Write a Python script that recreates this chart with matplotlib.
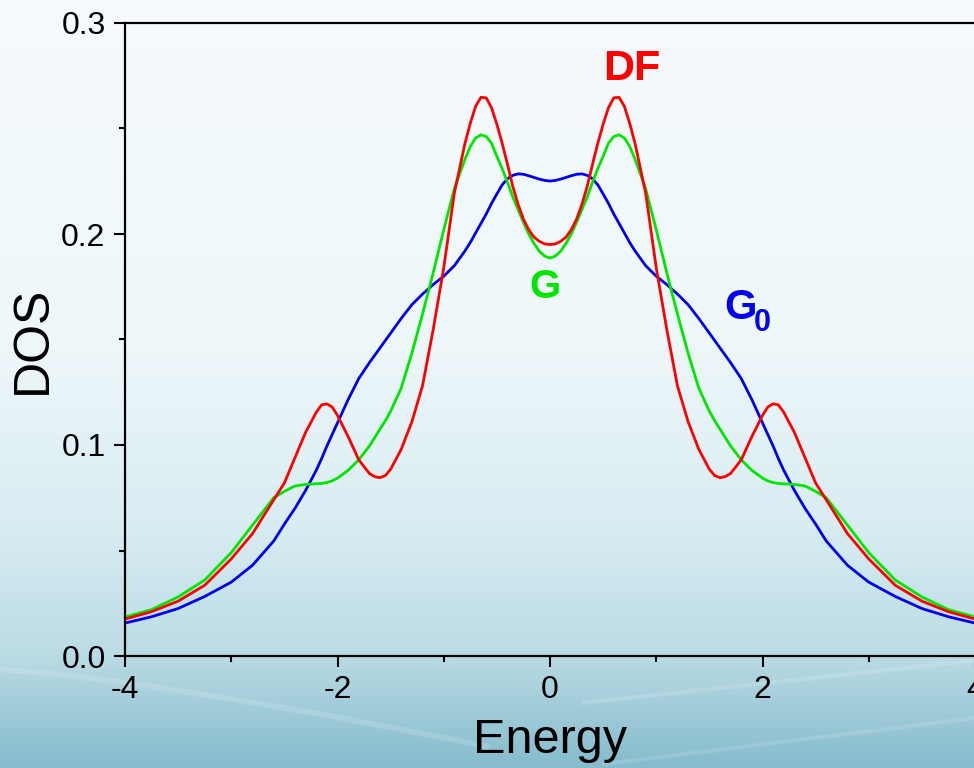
import numpy as np
import matplotlib
matplotlib.use("Agg")
import matplotlib.pyplot as plt
from matplotlib.colors import LinearSegmentedColormap
from matplotlib.ticker import MultipleLocator

plt.rcParams['font.family'] = ['Liberation Sans', 'DejaVu Sans']

# énergies
energy = [-4.0, -3.75, -3.5, -3.25, -3.0, -2.8, -2.6, -2.5, -2.4, -2.3, -2.2, -2.15,
          -2.1, -2.05, -2.0, -1.9, -1.8, -1.7, -1.65, -1.6, -1.55, -1.5, -1.4, -1.3,
          -1.2, -1.1, -1.0, -0.9, -0.8, -0.75, -0.7, -0.65, -0.6, -0.55, -0.5, -0.45,
          -0.4, -0.35, -0.3, -0.25, -0.2, -0.15, -0.1, -0.05, 0.0,
          0.05, 0.1, 0.15, 0.2, 0.25, 0.3, 0.35, 0.4, 0.45, 0.5, 0.55, 0.6, 0.65,
          0.7, 0.75, 0.8, 0.9, 1.0, 1.1, 1.2, 1.3, 1.4, 1.5, 1.55, 1.6, 1.65, 1.7,
          1.8, 1.9, 2.0, 2.05, 2.1, 2.15, 2.2, 2.3, 2.4, 2.5, 2.6, 2.8, 3.0, 3.25,
          3.5, 3.75, 4.0]

# DF (rouge)
dos_df = [0.0175, 0.021, 0.026, 0.0335, 0.046, 0.058, 0.074, 0.082, 0.094, 0.106,
          0.1155, 0.119, 0.1195, 0.118, 0.114, 0.104, 0.093, 0.0865, 0.085, 0.0845,
          0.0855, 0.0885, 0.098, 0.111, 0.128, 0.1545, 0.184, 0.2195, 0.243, 0.2525,
          0.2605, 0.2648, 0.2645, 0.2598, 0.252, 0.243, 0.233, 0.2225, 0.214, 0.207,
          0.202, 0.1985, 0.1965, 0.1953, 0.195,
          0.1953, 0.1965, 0.1985, 0.202, 0.207, 0.214, 0.2225, 0.233, 0.243, 0.252,
          0.2598, 0.2645, 0.2648, 0.2605, 0.2525, 0.243, 0.2195, 0.184, 0.1545, 0.128,
          0.111, 0.098, 0.0885, 0.0855, 0.0845, 0.085, 0.0865, 0.093, 0.104, 0.114,
          0.118, 0.1195, 0.119, 0.1155, 0.106, 0.094, 0.082, 0.074, 0.058, 0.046,
          0.0335, 0.026, 0.021, 0.0175]

# G (vert)
dos_g = [0.0185, 0.022, 0.028, 0.036, 0.049, 0.062, 0.075, 0.078, 0.0806, 0.0813,
         0.0816, 0.0818, 0.0822, 0.083, 0.0843, 0.088, 0.093, 0.0995, 0.1035, 0.1075,
         0.1115, 0.116, 0.127, 0.1435, 0.162, 0.1815, 0.202, 0.2215, 0.2355, 0.2415,
         0.2455, 0.247, 0.2462, 0.243, 0.2368, 0.231, 0.2245, 0.2175, 0.2115, 0.2055,
         0.2, 0.1955, 0.1918, 0.1895, 0.1886,
         0.1895, 0.1918, 0.1955, 0.2, 0.2055, 0.2115, 0.2175, 0.2245, 0.231, 0.2368,
         0.243, 0.2462, 0.247, 0.2455, 0.2415, 0.2355, 0.2215, 0.202, 0.1815, 0.162,
         0.1435, 0.127, 0.116, 0.1115, 0.1075, 0.1035, 0.0995, 0.093, 0.088, 0.0843,
         0.083, 0.0822, 0.0818, 0.0816, 0.0813, 0.0806, 0.078, 0.075, 0.062, 0.049,
         0.036, 0.028, 0.022, 0.0185]

# G0 (bleu)
dos_g0 = [0.0156, 0.0186, 0.0225, 0.0282, 0.035, 0.043, 0.0545, 0.0625, 0.070,
          0.0785, 0.088, 0.0935, 0.0995, 0.105, 0.1105, 0.1215, 0.1315, 0.139, 0.1425,
          0.146, 0.1495, 0.153, 0.160, 0.1665, 0.1715, 0.176, 0.180, 0.185, 0.192,
          0.196, 0.2005, 0.205, 0.2095, 0.2145, 0.219, 0.2233, 0.2262, 0.2278, 0.2285,
          0.2283, 0.2276, 0.2268, 0.226, 0.2254, 0.2251,
          0.2254, 0.226, 0.2268, 0.2276, 0.2283, 0.2285, 0.2278, 0.2262, 0.2233, 0.219,
          0.2145, 0.2095, 0.205, 0.2005, 0.196, 0.192, 0.185, 0.180, 0.176, 0.1715,
          0.1665, 0.160, 0.153, 0.1495, 0.146, 0.1425, 0.139, 0.1315, 0.1215, 0.1105,
          0.105, 0.0995, 0.0935, 0.088, 0.0785, 0.070, 0.0625, 0.0545, 0.043, 0.035,
          0.0282, 0.0225, 0.0186, 0.0156]

fig = plt.figure(figsize=(9.74, 7.68), dpi=100)

# fond dégradé blanc -> bleu
bg = fig.add_axes([0, 0, 1, 1], zorder=-10)
cmap = LinearSegmentedColormap.from_list(
    "bg", [(0.0, "#f6fbfd"), (0.45, "#eef7fa"), (0.68, "#d9edf2"),
           (0.85, "#bcdce5"), (1.0, "#86bccd")])
grad = np.linspace(0, 1, 256).reshape(-1, 1)
bg.imshow(grad, aspect="auto", cmap=cmap, extent=[0, 1, 1, 0])
bg.set_xlim(0, 1)
bg.set_ylim(1, 0)
# légers reflets blancs en bas
t = np.linspace(0, 1, 100)
bg.plot(0.5 * t, 0.872 + 0.1 * t ** 1.3, color="white", alpha=0.15, lw=4)
bg.plot(0.6 + 0.4 * t, 0.915 - 0.055 * t, color="white", alpha=0.15, lw=3)
bg.plot(0.62 + 0.38 * t, 0.995 - 0.06 * t, color="white", alpha=0.12, lw=3)
bg.axis("off")

ax = fig.add_axes([125 / 974, 112 / 768, 850 / 974, 633 / 768])
ax.set_facecolor("none")

ax.plot(energy, dos_g0, color="#0000ee", lw=2, solid_joinstyle="round")
ax.plot(energy, dos_g, color="#00e600", lw=2, solid_joinstyle="round")
ax.plot(energy, dos_df, color="#ff0000", lw=2, solid_joinstyle="round")

ax.set_xlim(-4, 4)
ax.set_ylim(0, 0.3)
ax.xaxis.set_major_locator(MultipleLocator(2))
ax.xaxis.set_minor_locator(MultipleLocator(1))
ax.yaxis.set_major_locator(MultipleLocator(0.1))
ax.yaxis.set_minor_locator(MultipleLocator(0.05))
ax.xaxis.set_major_formatter(lambda v, p: f"{v:.0f}")
ax.yaxis.set_major_formatter(lambda v, p: f"{v:.1f}")

ax.tick_params(which="major", direction="out", length=8, width=1.5,
               labelsize=23, pad=6)
ax.tick_params(which="minor", direction="out", length=4.5, width=1.5)
for s in ["left", "bottom", "top"]:
    ax.spines[s].set_linewidth(1.6)
ax.spines["right"].set_visible(False)

ax.set_xlabel("Energy", fontsize=35, labelpad=9)
ax.set_ylabel("DOS", fontsize=36, labelpad=4)

# étiquettes des courbes
ax.text(0.77, 0.278, "DF", color="#ff0000", fontsize=31, fontweight="bold",
        ha="center", va="center")
ax.text(-0.05, 0.175, "G", color="#00e600", fontsize=29, fontweight="bold",
        ha="center", va="center")
ax.text(1.79, 0.165, "G", color="#0000ee", fontsize=30, fontweight="bold",
        ha="center", va="center")
ax.text(2.0, 0.158, "0", color="#0000ee", fontsize=22, fontweight="bold",
        ha="center", va="center")

fig.savefig("out.png", dpi=100)
